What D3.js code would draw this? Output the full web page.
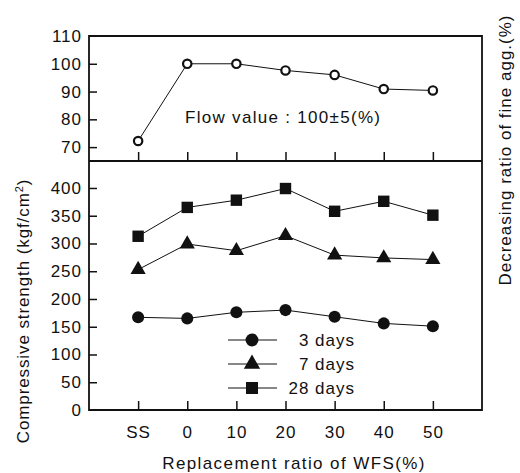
<!DOCTYPE html>
<html><head><meta charset="utf-8">
<script src="https://cdn.jsdelivr.net/npm/d3@7"></script>
<style>body{margin:0;background:#fff}svg{display:block}text{font-family:Arial,"Liberation Sans",sans-serif;fill:#111}</style>
</head><body><div id="c"></div>
<script>
const categories = ["SS","0","10","20","30","40","50"];
const fineAggRatio = [72.2, 100, 100, 97.6, 96.0, 90.9, 90.4];
const days3 = [167, 165, 176, 180, 168, 156, 151];
const days7 = [253, 299, 287, 314, 279, 274, 271];
const days28 = [313, 365, 378, 399, 358, 376, 351];
const topTicks = [70, 80, 90, 100, 110];
const bottomTicks = [0, 50, 100, 150, 200, 250, 300, 350, 400];
const legendLabels = ["3 days", "7 days", "28 days"];

const W = 520, H = 473;
const L = 89, R = 482, T = 36, MID = 161, B = 410;
const svg = d3.select("#c").append("svg").attr("width", W).attr("height", H);

const x = d3.scaleLinear().domain([-1, categories.length]).range([L, R]);
const yTop = d3.scaleLinear().domain([65, 110]).range([MID, T]);
const yBot = d3.scaleLinear().domain([0, 448.6]).range([B, MID]);

const ink = "#111";
// frame
svg.append("path").attr("d", `M${L},${T}H${R}V${B}H${L}Z`).attr("fill","none").attr("stroke",ink).attr("stroke-width",1.8);
svg.append("line").attr("x1",L).attr("x2",R).attr("y1",MID).attr("y2",MID).attr("stroke",ink).attr("stroke-width",1.8);

// left axes
const fs = "17px";
const axTop = svg.append("g").attr("transform",`translate(${L},0)`).call(d3.axisLeft(yTop).tickValues(topTicks).tickSize(0).tickPadding(7));
const axBot = svg.append("g").attr("transform",`translate(${L},0)`).call(d3.axisLeft(yBot).tickValues(bottomTicks).tickSize(0).tickPadding(7));
[axTop, axBot].forEach(g => { g.select(".domain").remove(); g.selectAll("text").attr("font-size", fs).attr("letter-spacing", 1).attr("fill", ink); });
// inward ticks on left
const inTicksTop = svg.append("g").attr("transform",`translate(${L},0)`).call(d3.axisRight(yTop).tickValues(topTicks.filter(d=>d<110)).tickSize(8).tickFormat(""));
const inTicksBot = svg.append("g").attr("transform",`translate(${L},0)`).call(d3.axisRight(yBot).tickValues(bottomTicks.filter(d=>d>0)).tickSize(8).tickFormat(""));
[inTicksTop, inTicksBot].forEach(g => { g.select(".domain").remove(); g.selectAll("line").attr("stroke", ink).attr("stroke-width", 1.5); });

// x ticks (inward, upward) on divider and bottom axis
const idx = d3.range(categories.length);
const xTickTop = svg.append("g").attr("transform",`translate(0,${MID})`).call(d3.axisTop(x).tickValues(idx).tickSize(9).tickFormat(""));
const xTickBot = svg.append("g").attr("transform",`translate(0,${B})`).call(d3.axisTop(x).tickValues(idx).tickSize(9).tickFormat(""));
[xTickTop, xTickBot].forEach(g => { g.select(".domain").remove(); g.selectAll("line").attr("stroke", ink).attr("stroke-width", 1.5); });
// x labels
const xLab = svg.append("g").attr("transform",`translate(0,${B})`).call(d3.axisBottom(x).tickValues(idx).tickSize(0).tickPadding(16).tickFormat(i => categories[i]));
xLab.select(".domain").remove();
xLab.selectAll("text").attr("font-size", fs).attr("letter-spacing", 1).attr("fill", ink);

// axis titles
svg.append("text").attr("x", 294).attr("y", 469).attr("text-anchor","middle").attr("font-size","17px").attr("letter-spacing",1.4).text("Replacement ratio of WFS(%)");
svg.append("text").attr("transform","translate(29,311) rotate(-90)").attr("text-anchor","middle").attr("font-size","17px").attr("letter-spacing",0.9)
  .html('Compressive strength (kgf/cm<tspan dy="-6" font-size="11px">2</tspan><tspan dy="6">)</tspan>');
svg.append("text").attr("transform","translate(511,150) rotate(-90)").attr("text-anchor","middle").attr("font-size","17px").attr("letter-spacing",1).text("Decreasing ratio of fine agg.(%)");

// top panel
const lineTop = d3.line().x((d,i)=>x(i)).y(d=>yTop(d));
svg.append("path").datum(fineAggRatio).attr("d", lineTop).attr("fill","none").attr("stroke",ink).attr("stroke-width",1);
svg.append("g").selectAll("circle").data(fineAggRatio).join("circle")
  .attr("cx",(d,i)=>x(i)).attr("cy",d=>yTop(d)).attr("r",4.2).attr("fill","#fff").attr("stroke",ink).attr("stroke-width",2.2);
svg.append("text").attr("x",185).attr("y",123).attr("font-size","17px").attr("letter-spacing",1.3).text("Flow value : 100±5(%)");

// bottom panel
const lineBot = d3.line().x((d,i)=>x(i)).y(d=>yBot(d));
const series = [
  {vals: days3, sym: d3.symbolCircle, size: 115},
  {vals: days7, sym: d3.symbolTriangle, size: 100},
  {vals: days28, sym: d3.symbolSquare, size: 130}
];
series.forEach(s => {
  svg.append("path").datum(s.vals).attr("d", lineBot).attr("fill","none").attr("stroke",ink).attr("stroke-width",1);
  svg.append("g").selectAll("path").data(s.vals).join("path")
    .attr("transform",(d,i)=>`translate(${x(i)},${yBot(d)})`)
    .attr("d", d3.symbol().type(s.sym).size(s.size)).attr("fill", ink);
});

// legend
const legY = [340, 364, 388];
series.forEach((s, k) => {
  const g = svg.append("g").attr("transform",`translate(0,${legY[k]})`);
  g.append("line").attr("x1",228).attr("x2",277).attr("stroke",ink).attr("stroke-width",1);
  g.append("path").attr("transform","translate(252,0)").attr("d", d3.symbol().type(s.sym).size(s.size+15)).attr("fill", ink);
  g.append("text").attr("x",355).attr("y",6).attr("text-anchor","end").attr("font-size","17px").attr("letter-spacing",1).text(legendLabels[k]);
});
</script>
</body></html>
